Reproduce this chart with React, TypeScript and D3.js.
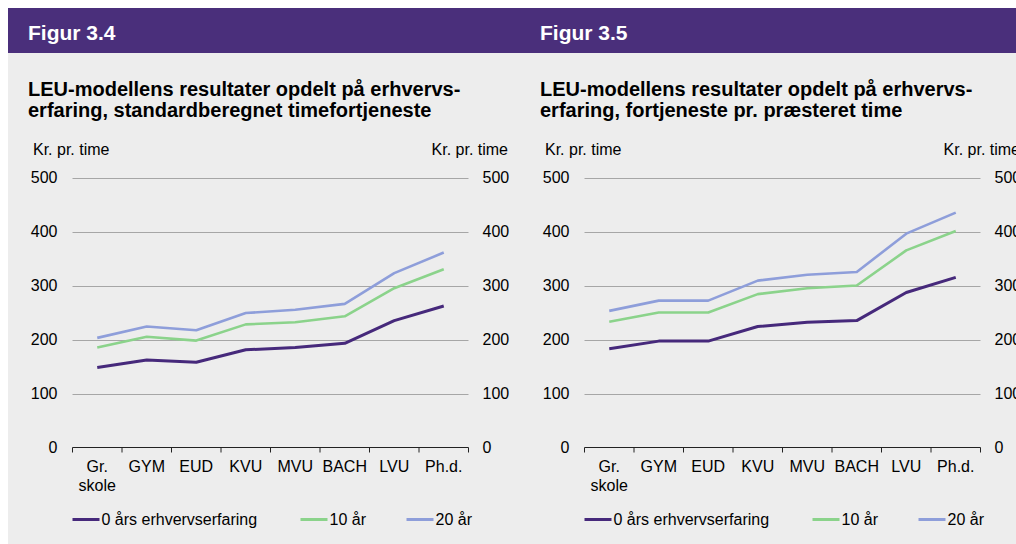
import React from "react";
import * as d3 from "d3";

const categories = ["Gr. skole", "GYM", "EUD", "KVU", "MVU", "BACH", "LVU", "Ph.d."];
const categoryLines = [["Gr.", "skole"], ["GYM"], ["EUD"], ["KVU"], ["MVU"], ["BACH"], ["LVU"], ["Ph.d."]];
const yTicks = [0, 100, 200, 300, 400, 500];
const seriesNames = ["0 års erhvervserfaring", "10 år", "20 år"];
const seriesColors = ["#46297B", "#8BD38B", "#8E9EDA"];

// Figur 3.4 – standardberegnet timefortjeneste
const fig34_0 = [148, 162, 158, 181, 185, 193, 235, 262];
const fig34_10 = [185, 205, 198, 228, 232, 243, 295, 330];
const fig34_20 = [203, 224, 217, 249, 255, 266, 323, 361];

// Figur 3.5 – fortjeneste pr. præsteret time
const fig35_0 = [183, 197, 197, 224, 232, 235, 287, 315];
const fig35_10 = [233, 250, 250, 284, 295, 300, 365, 401];
const fig35_20 = [253, 272, 272, 309, 320, 325, 396, 435];

const panels = [
  {
    fig: "Figur 3.4",
    title: ["LEU-modellens resultater opdelt på erhvervs-", "erfaring, standardberegnet timefortjeneste"],
    series: [fig34_0, fig34_10, fig34_20],
    x0: 8,
  },
  {
    fig: "Figur 3.5",
    title: ["LEU-modellens resultater opdelt på erhvervs-", "erfaring, fortjeneste pr. præsteret time"],
    series: [fig35_0, fig35_10, fig35_20],
    x0: 520,
  },
];

const FONT = "'Liberation Sans', Arial, sans-serif";

function Panel({ p }: { p: typeof panels[number] }) {
  const left = p.x0 + 64.5;
  const right = p.x0 + 460.5;
  const y = d3.scaleLinear().domain([0, 500]).range([447.5, 177.5]);
  const x = d3.scaleBand().domain(categories).range([left, right]).padding(0);
  const cx = (c: string) => (x(c) as number) + x.bandwidth() / 2;
  const line = d3
    .line<number>()
    .x((_, i) => cx(categories[i]))
    .y((v) => y(v));
  const legendX = [left, left + 228, left + 334];
  const bounds = categories.map((c) => x(c) as number).concat([right]);
  return (
    <g fontFamily={FONT}>
      <text x={p.x0 + 20} y={39.5} fill="#fff" fontWeight="bold" fontSize={21}>
        {p.fig}
      </text>
      {p.title.map((t, i) => (
        <text key={i} x={p.x0 + 20} y={96 + i * 21} fill="#000" fontWeight="bold" fontSize={20}>
          {t}
        </text>
      ))}
      <text x={p.x0 + 25} y={155} fontSize={16} fill="#000">Kr. pr. time</text>
      <text x={p.x0 + 500} y={155} fontSize={16} fill="#000" textAnchor="end">Kr. pr. time</text>
      {yTicks.map((t) => (
        <g key={t}>
          {t > 0 && (
            <line x1={left} x2={right} y1={Math.round(y(t)) + 0.5} y2={Math.round(y(t)) + 0.5} stroke="#A6A6A6" strokeWidth={1} />
          )}
          <text x={left - 15} y={y(t) + 5.5} fontSize={16} textAnchor="end" fill="#000">{t}</text>
          <text x={right + 14} y={y(t) + 5.5} fontSize={16} fill="#000">{t}</text>
        </g>
      ))}
      <line x1={left} x2={right} y1={y(0)} y2={y(0)} stroke="#222" strokeWidth={1.2} />
      {bounds.map((b, i) => (
        <line key={i} x1={b} x2={b} y1={y(0)} y2={y(0) + 5} stroke="#222" strokeWidth={1} />
      ))}
      {categoryLines.map((ls, i) => (
        <text key={i} x={cx(categories[i])} y={472} fontSize={16} textAnchor="middle" fill="#000">
          {ls.map((l, j) => (
            <tspan key={j} x={cx(categories[i])} dy={j === 0 ? 0 : 19}>{l}</tspan>
          ))}
        </text>
      ))}
      {p.series.map((s, i) => (
        <path key={i} d={line(s) || ""} fill="none" stroke={seriesColors[i]} strokeWidth={i === 0 ? 3 : 2.6} strokeLinejoin="round" />
      ))}
      {seriesNames.map((n, i) => (
        <g key={n}>
          <line x1={legendX[i]} x2={legendX[i] + 27} y1={519.5} y2={519.5} stroke={seriesColors[i]} strokeWidth={3} />
          <text x={legendX[i] + 29} y={525} fontSize={16} fill="#000">{n}</text>
        </g>
      ))}
    </g>
  );
}

export default function App() {
  return (
    <svg
      width={1016}
      height={544}
      viewBox="0 0 1016 544"
      style={{ display: "block", position: "absolute", left: 0, top: 0 }}
    >
      <rect x={0} y={0} width={1016} height={544} fill="#fff" />
      <rect x={8} y={8} width={1008} height={45} fill="#4A2F7B" />
      <rect x={8} y={53} width={1008} height={491} fill="#EDEDED" />
      {panels.map((p) => (
        <Panel key={p.fig} p={p} />
      ))}
    </svg>
  );
}
